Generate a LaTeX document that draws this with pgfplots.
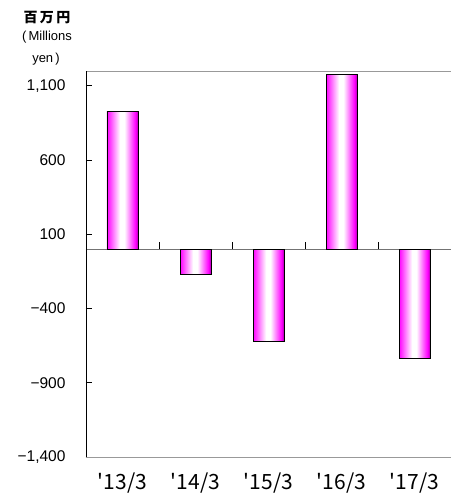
\documentclass[border=0pt]{standalone}
\usepackage{pgfplots}
\pgfplotsset{compat=1.18}
\usepackage{fontspec}
\setmainfont{Liberation Sans}
\newfontfamily\jp{Noto Sans CJK JP}
\definecolor{mag}{RGB}{255,0,255}
\definecolor{magd}{RGB}{170,0,170}
\pgfdeclarehorizontalshading{barshade}{100bp}{color(0bp)=(mag); color(25bp)=(mag); color(46bp)=(white); color(53bp)=(white); color(71bp)=(mag); color(75bp)=(magd); color(100bp)=(magd)}
\pgfplotstableread{
x y
0 925
1 -169
2 -622
3 1177
4 -735
}\datatable
\newcommand{\q}{\textquotesingle}
\begin{document}
\begin{tikzpicture}
\begin{axis}[
  name=ax,
  scale only axis,
  width=365pt, height=386pt,
  xmin=-0.5, xmax=4.5,
  ymin=-1400, ymax=1200,
  axis line style={draw=none},
  clip=false,
  ybar, bar width=31pt, bar shift=0pt,
  xtick={0,1,2,3,4},
  xticklabels={{\q13/3},{\q14/3},{\q15/3},{\q16/3},{\q17/3}},
  x tick label style={font=\jp\fontsize{21}{23}\selectfont, yshift=-12pt},
  major x tick style={draw=none},
  ytick={-1400,-900,-400,100,600,1100},
  yticklabels={{−1,400},{−900},{−400},{100},{600},{1,100}},
  y tick label style={font=\fontsize{15.5}{17}\selectfont, xshift=-17pt},
  ytick pos=left,
  tick align=inside,
  major tick length=6pt,
  tick style={black, line width=0.8pt},
]
\draw[gray!80, line width=0.8pt] (axis cs:-0.5,1200) -- (axis cs:4.5,1200);
\draw[gray!80, line width=0.8pt] (axis cs:-0.5,-1400) -- (axis cs:4.5,-1400);
\draw[gray!90!black, line width=1pt] (axis cs:-0.5,0) -- (axis cs:4.5,0);
\draw[black, line width=0.8pt] (axis cs:0.5,0) -- (axis cs:0.5,50);
\draw[black, line width=0.8pt] (axis cs:1.5,0) -- (axis cs:1.5,50);
\draw[black, line width=0.8pt] (axis cs:2.5,0) -- (axis cs:2.5,50);
\draw[black, line width=0.8pt] (axis cs:3.5,0) -- (axis cs:3.5,50);
\draw[black, line width=0.9pt] (axis cs:-0.5,-1400) -- (axis cs:-0.5,1200);
\addplot[draw=black, line width=0.8pt, shading=barshade] table[x=x,y=y, skip coords between index={1}{5}] {\datatable};
\addplot[draw=black, line width=0.8pt, shading=barshade] table[x=x,y=y, skip coords between index={0}{1}, skip coords between index={2}{5}] {\datatable};
\addplot[draw=black, line width=0.8pt, shading=barshade] table[x=x,y=y, skip coords between index={0}{2}, skip coords between index={3}{5}] {\datatable};
\addplot[draw=black, line width=0.8pt, shading=barshade] table[x=x,y=y, skip coords between index={0}{3}, skip coords between index={4}{5}] {\datatable};
\addplot[draw=black, line width=0.8pt, shading=barshade] table[x=x,y=y, skip coords between index={0}{4}] {\datatable};
\node[font=\jp\bfseries\fontsize{14}{16}\selectfont] at ([shift={(-39pt,53pt)}]rel axis cs:0,1) {百\,万\,円};
\node[font=\fontsize{13}{15}\selectfont] at ([shift={(-39pt,34pt)}]rel axis cs:0,1) {(\,Millions};
\node[font=\fontsize{13}{15}\selectfont] at ([shift={(-40pt,12pt)}]rel axis cs:0,1) {yen\,)};
\end{axis}
\path (ax.south west) ++(-86pt,-42pt) rectangle ([shift={(1pt,71pt)}]ax.north east);
\end{tikzpicture}
\end{document}
